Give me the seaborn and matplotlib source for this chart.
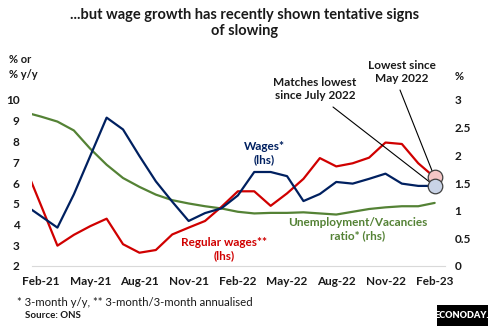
import numpy as np
import pandas as pd
import matplotlib
matplotlib.use("Agg")
import matplotlib.pyplot as plt
from matplotlib.patches import Rectangle
import seaborn as sns

sns.set_theme(style="white")
plt.rcParams['font.family'] = ['Lato', 'DejaVu Sans']

months = ["Jan-21", "Feb-21", "Mar-21", "Apr-21", "May-21", "Jun-21", "Jul-21", "Aug-21",
          "Sep-21", "Oct-21", "Nov-21", "Dec-21", "Jan-22", "Feb-22", "Mar-22", "Apr-22",
          "May-22", "Jun-22", "Jul-22", "Aug-22", "Sep-22", "Oct-22", "Nov-22", "Dec-22",
          "Jan-23", "Feb-23"]
wages = [4.95, 4.40, 3.85, 5.45, 7.30, 9.15, 8.58, 7.30, 6.08, 5.10, 4.17, 4.55, 4.78,
         5.40, 6.53, 6.53, 6.33, 5.13, 5.47, 6.05, 5.97, 6.20, 6.45, 5.97, 5.86, 5.86]
regular_wages = [6.85, 4.92, 2.98, 3.50, 3.92, 4.28, 3.05, 2.64, 2.77, 3.52, 3.85, 4.17, 4.85,
                 5.60, 5.60, 4.90, 5.50, 6.20, 7.20, 6.80, 6.95, 7.22, 7.95, 7.88, 6.95, 6.27]
uv_ratio = [2.78, 2.70, 2.61, 2.45, 2.12, 1.83, 1.59, 1.43, 1.29, 1.19, 1.13, 1.08, 1.04,
            0.98, 0.95, 0.96, 0.96, 0.97, 0.95, 0.93, 0.98, 1.03, 1.06, 1.08, 1.08, 1.14]
tick_labels = ["Feb-21", "May-21", "Aug-21", "Nov-21", "Feb-22", "May-22", "Aug-22", "Nov-22", "Feb-23"]
left_ticks = [2, 3, 4, 5, 6, 7, 8, 9, 10]
right_ticks = [0, 0.5, 1, 1.5, 2, 2.5, 3]

BLUE = "#002060"
RED = "#D00000"
GREEN = "#548235"
TXT = "#1a1a1a"

df = pd.DataFrame({"month": months, "wages": wages, "regular": regular_wages, "uv": uv_ratio})
df["pos"] = np.arange(len(df)) - 1  # Feb-21 -> 0

W, H = 489, 326
fig = plt.figure(figsize=(W / 100, H / 100), dpi=100)
ax = fig.add_axes([32 / W, 1 - 266 / H, (445 - 32) / W, (266 - 100) / H])
ax2 = ax.twinx()

sns.lineplot(data=df, x="pos", y="uv", ax=ax2, color=GREEN, lw=1.6)
sns.lineplot(data=df, x="pos", y="regular", ax=ax, color=RED, lw=1.6)
sns.lineplot(data=df, x="pos", y="wages", ax=ax, color=BLUE, lw=1.6)
ax.set_zorder(ax2.get_zorder() + 1)
ax.patch.set_visible(False)

last = df.iloc[-1:]
sns.scatterplot(data=last, x="pos", y="regular", ax=ax, s=110, color="#F4C6C6",
                edgecolor="#404040", linewidth=0.9, zorder=5)
sns.scatterplot(data=last, x="pos", y="wages", ax=ax, s=110, color="#C9D3E6",
                edgecolor="#404040", linewidth=0.9, zorder=5)

ax.set_xlim(-0.55, 24.63)
ax.set_ylim(2, 10)
ax2.set_ylim(0, 3)
ax.set_xticks(range(0, 25, 3))
ax.set_xticklabels(tick_labels)
ax.set_yticks(left_ticks)
ax.set_yticklabels([str(v) for v in left_ticks])
ax2.set_yticks(right_ticks)
ax2.set_yticklabels([f"{v:g}" for v in right_ticks])
for a in (ax, ax2):
    a.set_xlabel("")
    a.set_ylabel("")
    a.grid(False)
    for s in a.spines.values():
        s.set_visible(False)
    a.tick_params(length=0, labelsize=8.5, labelcolor=TXT)
    for lab in a.get_xticklabels() + a.get_yticklabels():
        lab.set_fontweight("bold")
ax.spines["bottom"].set_visible(True)
ax.spines["bottom"].set_color("#D9D9D9")
ax.spines["bottom"].set_linewidth(0.8)
ax.tick_params(axis="x", pad=7)
ax.tick_params(axis="y", pad=9)
ax2.tick_params(axis="y", pad=7)

def ftext(x, y, s, **kw):
    return fig.text(x / W, 1 - y / H, s, **kw)

ftext(245, 23, "...but wage growth has recently shown tentative signs\nof slowing",
      ha="center", va="center", fontsize=10.5, fontweight="bold", color=TXT, linespacing=1.25)
ftext(9, 67, "% or\n% y/y", ha="left", va="center", fontsize=8, fontweight="bold", color=TXT, linespacing=1.5)
ftext(455, 77, "%", ha="left", va="center", fontsize=8, fontweight="bold", color=TXT)

ftext(264, 153, "Wages*\n(lhs)", ha="center", va="center", fontsize=8.5, fontweight="bold",
      color=BLUE, linespacing=1.3)
ftext(224, 249, "Regular wages**\n(lhs)", ha="center", va="center", fontsize=8.5, fontweight="bold",
      color=RED, linespacing=1.3)
ftext(358, 229, "Unemployment/Vacancies\nratio* (rhs)", ha="center", va="center", fontsize=8.5,
      fontweight="bold", color=GREEN, linespacing=1.3)

ftext(315, 89, "Matches lowest\nsince July 2022", ha="center", va="center", fontsize=8.5,
      fontweight="bold", color=TXT, linespacing=1.3)
ftext(402, 72, "Lowest since\nMay 2022", ha="center", va="center", fontsize=8.5,
      fontweight="bold", color=TXT, linespacing=1.3)

ax.annotate("", xy=(24, wages[-1]), xytext=(333, H - 107), textcoords="figure pixels",
            arrowprops=dict(arrowstyle="-", lw=0.8, color="black", shrinkA=0, shrinkB=0))
ax.annotate("", xy=(24, regular_wages[-1]), xytext=(400, H - 90), textcoords="figure pixels",
            arrowprops=dict(arrowstyle="-", lw=0.8, color="black", shrinkA=0, shrinkB=0))

ftext(17, 303, "* 3-month y/y, ** 3-month/3-month annualised", ha="left", va="center",
      fontsize=8.2, color=TXT)
ftext(25, 316, "Source: ONS", ha="left", va="center", fontsize=7, fontweight="bold", color=TXT)

fig.patches.append(Rectangle((437 / W, 0), (W - 437) / W, 21 / H, transform=fig.transFigure,
                             facecolor="black", edgecolor="none"))
ftext(462, 316, "ECONODAY.", ha="center", va="center", fontsize=6.6, fontweight="heavy",
      color="white")

fig.savefig("out.png", dpi=100)
